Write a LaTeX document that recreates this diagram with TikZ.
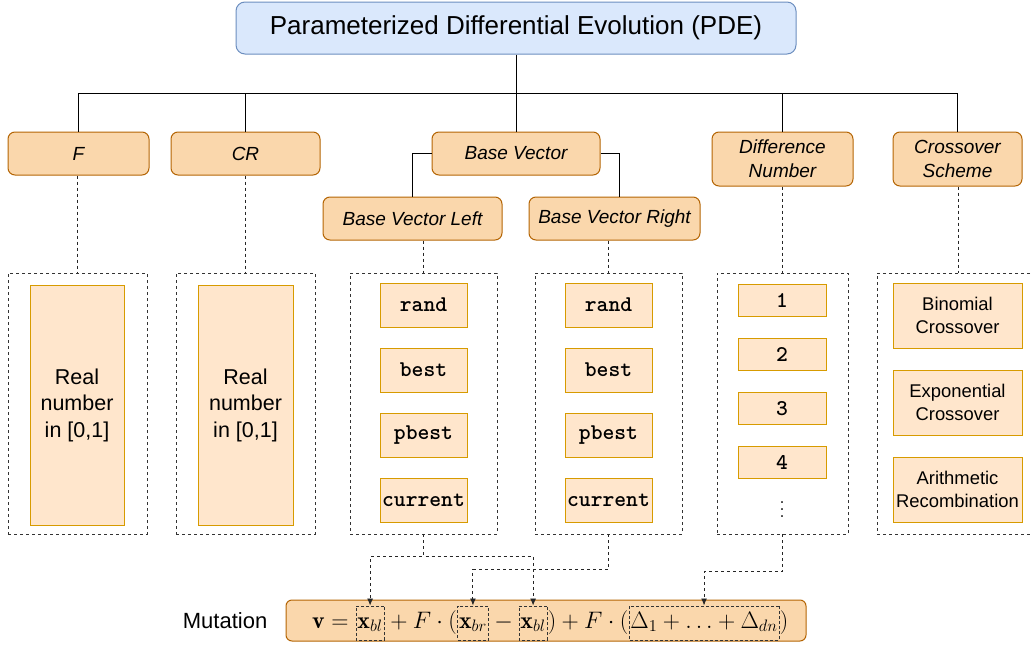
\documentclass[tikz,border=0pt]{standalone}
\usepackage{fontspec}
\newfontfamily\arialfont{Liberation Sans}
\usetikzlibrary{positioning,arrows.meta}
\definecolor{titlefill}{HTML}{DAE8FC}
\definecolor{titledraw}{HTML}{6C8EBF}
\definecolor{catfill}{HTML}{FAD7AC}
\definecolor{catdraw}{HTML}{B46504}
\definecolor{itemfill}{HTML}{FFE6CC}
\definecolor{itemdraw}{HTML}{D79B00}
\tikzset{
  cat/.style={draw=catdraw,fill=catfill,rounded corners=7pt,line width=1pt,inner sep=0pt,align=center,
    font=\arialfont\itshape\fontsize{19}{24}\selectfont},
  item/.style={draw=itemdraw,fill=itemfill,line width=1pt,inner sep=0pt,align=center},
  tt/.style={font=\ttfamily\bfseries\fontsize{22.5}{26}\selectfont},
  sansitem/.style={font=\arialfont\fontsize{18.4}{23}\selectfont},
  group/.style={draw=black!80,dash pattern=on 3pt off 3pt,line width=0.9pt,inner sep=0pt},
  dline/.style={draw=black!85,dash pattern=on 3pt off 3pt,line width=0.9pt},
  arr/.style={dline,-{Latex[length=7pt,width=6pt]}},
  tline/.style={line width=1pt},
  mfont/.style={font=\fontsize{20.74}{25}\selectfont,scale=1.15,transform shape},
  mtxt/.style={mfont,inner sep=0pt,anchor=base west},
  mbox/.style={mfont,draw=black!80,dash pattern=on 3pt off 2pt,line width=0.9pt,anchor=base west,
    inner xsep=1.3pt,inner ysep=4.3pt,text height=14.8pt,text depth=6.1pt},
}
\begin{document}
\begin{tikzpicture}[x=1pt,y=-1pt]
  \useasboundingbox (0,0) rectangle (1031,645);
  \node[draw=titledraw,fill=titlefill,rounded corners=9pt,line width=1pt,minimum width=560pt,minimum height=52pt,
    inner sep=0pt,font=\arialfont\fontsize{26}{31}\selectfont] (pde) at (516,28) {Parameterized Differential Evolution (PDE)};
  \coordinate (bus) at (516,93);
  \node[cat,minimum width=141pt,minimum height=43pt] (f) at (78.5,153.5) {F};
  \node[cat,minimum width=149pt,minimum height=43pt] (cr) at (245.5,153.5) {CR};
  \node[cat,minimum width=168pt,minimum height=43pt] (bv) at (516,153.5) {Base Vector};
  \node[cat,minimum width=141pt,minimum height=54pt] (dn) at (782.5,159) {Difference\\Number};
  \node[cat,minimum width=129pt,minimum height=54pt] (cs) at (957.5,159) {Crossover\\Scheme};
  \node[cat,minimum width=179pt,minimum height=43pt] (bvl) at (412.5,218.5) {Base Vector Left};
  \node[cat,minimum width=171pt,minimum height=43pt] (bvr) at (614.5,218.5) {Base Vector Right};

  \node[group,minimum width=139pt,minimum height=261pt] (gf) at (77.5,403.5) {};
  \node[group,minimum width=139pt,minimum height=261pt] (gcr) at (245.5,403.5) {};
  \node[group,minimum width=147pt,minimum height=261pt] (gl) at (423.5,403.5) {};
  \node[group,minimum width=147pt,minimum height=261pt] (gr) at (608.5,403.5) {};
  \node[group,minimum width=131pt,minimum height=261pt] (gd) at (782.5,403.5) {};
  \node[group,minimum width=162pt,minimum height=261pt] (gc) at (958,403.5) {};

  \node[item,minimum width=94pt,minimum height=240pt,font=\arialfont\fontsize{21.5}{26.5}\selectfont] (rf) at (77,405) {Real\\number\\in [0,1]};
  \node[item,minimum width=95pt,minimum height=240pt,font=\arialfont\fontsize{21.5}{26.5}\selectfont] (rcr) at (245.5,405) {Real\\number\\in [0,1]};
  \foreach \t [count=\i] in {rand,best,pbest,current} {
    \node[item,tt,minimum width=87pt,minimum height=44pt] (l\i) at (423.5,240+65*\i) {\t};
    \node[item,tt,minimum width=87pt,minimum height=44pt] (r\i) at (608.5,240+65*\i) {\t};
  }
  \foreach \t [count=\i] in {1,2,3,4}
    \node[item,tt,minimum width=88pt,minimum height=32pt] (d\i) at (782,245.7+54.3*\i) {\t};
  \node[scale=1.8,transform shape] (d5) at (782,504) {$\vdots$};
  \node[item,sansitem,minimum width=129pt,minimum height=65pt] (c1) at (957.5,315.5) {Binomial\\Crossover};
  \node[item,sansitem,minimum width=129pt,minimum height=65pt] (c2) at (957.5,402.5) {Exponential\\Crossover};
  \node[item,sansitem,minimum width=129pt,minimum height=65pt] (c3) at (957.5,489.5) {Arithmetic\\Recombination};

  \node[draw=catdraw,fill=catfill,line width=1pt,rounded corners=6pt,minimum width=520pt,minimum height=41pt,inner sep=0pt] (mut) at (546,620.5) {};
  \node[left=18pt of mut,inner sep=0pt,font=\arialfont\fontsize{22}{26}\selectfont] (mlab) {Mutation};
  \node[mtxt] (m0) at (312,628) {$\mathbf{v}={}$};
  \node[mbox] (xbl1) at (m0.base east) {$\mathbf{x}_{bl}$};
  \node[mtxt] (m1) at (xbl1.base east) {${}+F\cdot($};
  \node[mbox] (xbr) at (m1.base east) {$\mathbf{x}_{br}$};
  \node[mtxt] (m2) at (xbr.base east) {${}-{}$};
  \node[mbox] (xbl2) at (m2.base east) {$\mathbf{x}_{bl}$};
  \node[mtxt] (m3) at (xbl2.base east) {$)+F\cdot($};
  \node[mbox] (dsum) at (m3.base east) {$\Delta_1+\ldots+\Delta_{dn}$};
  \node[mtxt] (m4) at (dsum.base east) {$)$};

  \draw[tline] (pde.south) -- (bus);
  \foreach \n in {f,cr,bv,dn,cs}
    \draw[tline] (bus) -| (\n.north);
  \draw[tline] (bv.west) -| (bvl.north);
  \draw[tline] (bv.east) -| ([xshift=5pt]bvr.north);

  \draw[dline] (gf.north |- f.south) -- (gf.north);
  \draw[dline] (gcr.north |- cr.south) -- (gcr.north);
  \draw[dline] (gl.north |- bvl.south) -- (gl.north);
  \draw[dline] (gr.north |- bvr.south) -- (gr.north);
  \draw[dline] (gd.north |- dn.south) -- (gd.north);
  \draw[dline] (gc.north |- cs.south) -- (gc.north);

  \draw[arr] (gl.south) -- ++(0,22) -| (xbl1.north);
  \draw[arr] (gl.south) -- ++(0,22) -| (xbl2.north);
  \draw[arr] (gr.south) -- ++(0,35) -| (xbr.north);
  \draw[arr] (gd.south) -- ++(0,37) -| (dsum.north);
\end{tikzpicture}
\end{document}
